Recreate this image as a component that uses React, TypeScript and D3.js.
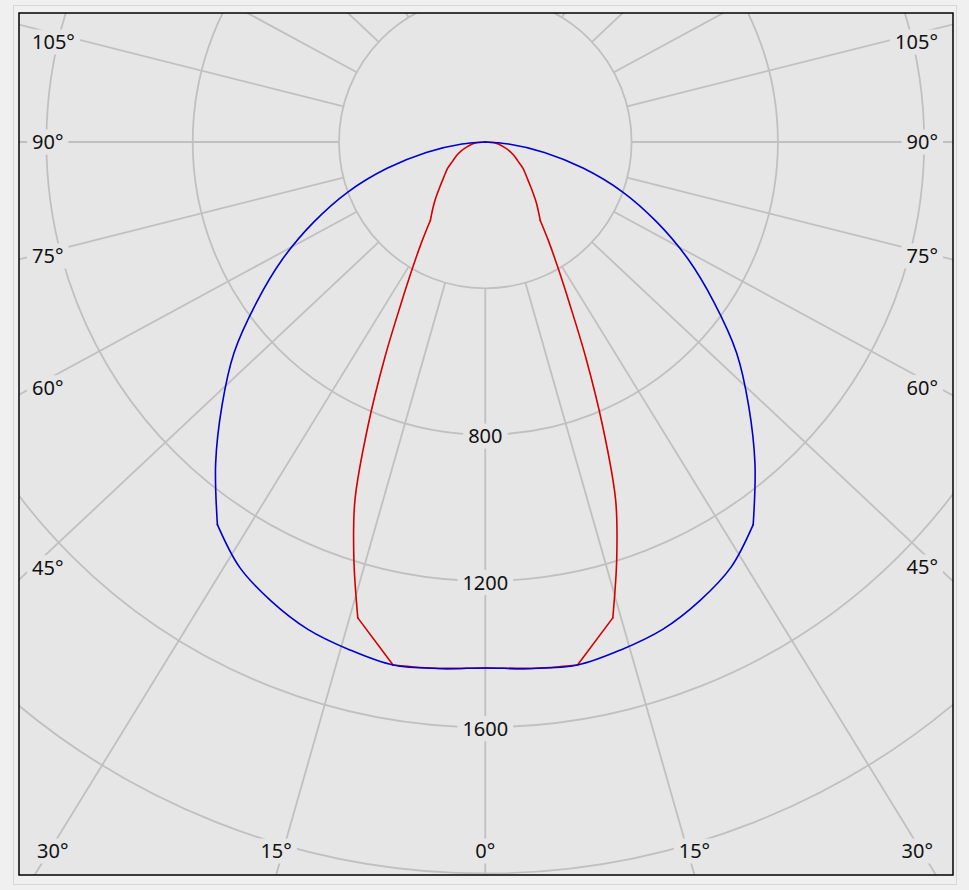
import React from "react";
import * as d3 from "d3";

// ---- data (angles in degrees from nadir, intensity in cd) ----
const BLUE_ANGLES = [0, 5, 10, 15, 20, 25, 30, 35, 40, 45, 50, 55, 60, 65, 70, 75, 80, 85, 90];
const BLUE_VALUES = [1438, 1445, 1452, 1437, 1418, 1385, 1343, 1277, 1147, 1018, 897, 763, 640, 517, 400, 278, 164, 64, 0];
const BLUE_KINKS = [35];

const RED_ANGLES = [0, 5, 10, 15, 17.5, 20, 22.5, 25, 27.5, 30, 32.5, 35, 40, 45, 50, 55, 60, 65, 70, 75, 80, 85, 90];
const RED_VALUES = [1438, 1445, 1452, 1347, 1195, 1042, 836, 650, 500, 398, 323, 262, 217, 177, 147, 126, 102, 86, 69, 52, 39, 27, 0];
const RED_KINKS = [10, 15, 35];

const RING_VALUES = [400, 800, 1200, 1600, 2000];
const RING_LABELS = [800, 1200, 1600];
const SPOKE_ANGLES = d3.range(0, 360, 15);
const ANGLE_LABELS = [0, 15, 30, 45, 60, 75, 90, 105];

// ---- layout / style ----
const W = 969;
const H = 890;
const CX = 485.3;
const CY = 142;
const PX0 = 19, PY0 = 13, PX1 = 953, PY1 = 875;
const K = 1.065; // horizontal stretch of spokes as drawn by the original tool
const FONT = "'Noto Sans', 'DejaVu Sans', sans-serif";
const FS = 20;
const GRID = "#c0c0c0";
const PLOT_BG = "#e6e6e6";

const rScale = d3.scaleLinear().domain([0, 2000]).range([0, 731.5]);

function textWidth(s: string) {
  let w = 0;
  for (const ch of s) w += ch === "°" ? 0.43 * FS : 0.572 * FS;
  return w;
}

type P = [number, number];

function curveSegments(angles: number[], values: number[], kinks: number[]): P[][] {
  const pts: { a: number; p: P }[] = [];
  const sideList: { a: number; p: P }[] = [];
  angles.forEach((a, i) => {
    const r = rScale(values[i]);
    const t = (a * Math.PI) / 180;
    sideList.push({ a, p: [CX - r * Math.sin(t), CY + r * Math.cos(t)] });
  });
  for (let i = sideList.length - 1; i >= 0; i--) pts.push(sideList[i]);
  angles.forEach((a, i) => {
    if (i === 0) return;
    const r = rScale(values[i]);
    const t = (a * Math.PI) / 180;
    pts.push({ a, p: [CX + r * Math.sin(t), CY + r * Math.cos(t)] });
  });
  const segs: P[][] = [];
  let cur: P[] = [];
  pts.forEach((q, i) => {
    cur.push(q.p);
    if (i > 0 && i < pts.length - 1 && kinks.includes(q.a)) {
      segs.push(cur);
      cur = [q.p];
    }
  });
  segs.push(cur);
  return segs;
}

function spokeDir(deg: number, side: number): P {
  const t = (deg * Math.PI) / 180;
  const ux = side * K * Math.sin(t);
  const uy = Math.cos(t);
  const n = Math.hypot(ux, uy);
  return [ux / n, uy / n];
}

export default function App() {
  const line = d3.line<P>().curve(d3.curveCatmullRom.alpha(0.5));
  const blueSegs = curveSegments(BLUE_ANGLES, BLUE_VALUES, BLUE_KINKS);
  const redSegs = curveSegments(RED_ANGLES, RED_VALUES, RED_KINKS);

  const r0 = rScale(400);
  const spokes = SPOKE_ANGLES.map((deg) => {
    const [ux, uy] = spokeDir(deg, 1);
    return { x1: CX + ux * r0, y1: CY + uy * r0, x2: CX + ux * 1500, y2: CY + uy * 1500, key: deg };
  });

  type Lab = { x: number; y: number; anchor: string; text: string; w: number };
  const angleLabels: Lab[] = [];
  ANGLE_LABELS.forEach((deg) => {
    const sides = deg === 0 ? [1] : [-1, 1];
    sides.forEach((side) => {
      const [ux, uy] = spokeDir(deg, side);
      const text = `${deg}°`;
      const w = textWidth(text);
      const tb = uy > 0 ? (PY1 - CY) / uy : Infinity;
      const ts = Math.abs(ux) > 1e-9 ? (side < 0 ? CX - 32 : 938 - CX) / Math.abs(ux) : Infinity;
      if (tb < ts) {
        let x = CX + ux * tb;
        x = Math.max(37 + w / 2, Math.min(933 - w / 2, x));
        angleLabels.push({ x, y: 851, anchor: "middle", text, w });
      } else {
        const yRaw = CY + uy * ts;
        if (yRaw < PY0) return;
        const y = Math.max(42, Math.min(851, yRaw));
        const x = side < 0 ? 32 : 938;
        angleLabels.push({ x, y, anchor: side < 0 ? "start" : "end", text, w });
      }
    });
  });

  const ringLabels: Lab[] = RING_LABELS.map((v) => {
    const text = `${v}`;
    return { x: CX, y: CY + rScale(v) + 1.5, anchor: "middle", text, w: textWidth(text) };
  });

  const allLabels = [...angleLabels, ...ringLabels];

  return (
    <div style={{ position: "absolute", left: 0, top: 0, width: W, height: H }}>
      <svg width={W} height={H} style={{ display: "block" }}>
        <defs>
          <clipPath id="plotClip">
            <rect x={PX0} y={PY0} width={PX1 - PX0} height={PY1 - PY0} />
          </clipPath>
        </defs>
        <rect x={0} y={0} width={W} height={H} fill="#f0f0f0" />
        <rect x={13.5} y={5.5} width={943} height={879} fill="none" stroke="#d6d6d6" strokeWidth={1} />
        <rect x={PX0} y={PY0} width={PX1 - PX0} height={PY1 - PY0} fill={PLOT_BG} />
        <g clipPath="url(#plotClip)">
          {RING_VALUES.map((v) => (
            <circle key={v} cx={CX} cy={CY} r={rScale(v)} fill="none" stroke={GRID} strokeWidth={1.8} />
          ))}
          {spokes.map((s) => (
            <line key={s.key} x1={s.x1} y1={s.y1} x2={s.x2} y2={s.y2} stroke={GRID} strokeWidth={1.8} />
          ))}
          {allLabels.map((l, i) => {
            const x0 = l.anchor === "start" ? l.x : l.anchor === "end" ? l.x - l.w : l.x - l.w / 2;
            return <rect key={`bg${i}`} x={x0 - 5} y={l.y - 12.5} width={l.w + 10} height={25} fill={PLOT_BG} />;
          })}
          {redSegs.map((s, i) => (
            <path key={`r${i}`} d={line(s) || ""} fill="none" stroke="#d40000" strokeWidth={1.6} strokeLinejoin="round" strokeLinecap="round" />
          ))}
          {blueSegs.map((s, i) => (
            <path key={`b${i}`} d={line(s) || ""} fill="none" stroke="#0000cc" strokeWidth={1.6} strokeLinejoin="round" strokeLinecap="round" />
          ))}
          {allLabels.map((l, i) => (
            <text
              key={`t${i}`}
              x={l.x}
              y={l.y + 0.36 * FS}
              textAnchor={l.anchor as any}
              fontFamily={FONT}
              fontSize={FS}
              fill="#111"
            >
              {l.text}
            </text>
          ))}
        </g>
        <rect x={PX0} y={PY0} width={PX1 - PX0} height={PY1 - PY0} fill="none" stroke="#000" strokeWidth={1.5} />
      </svg>
    </div>
  );
}
